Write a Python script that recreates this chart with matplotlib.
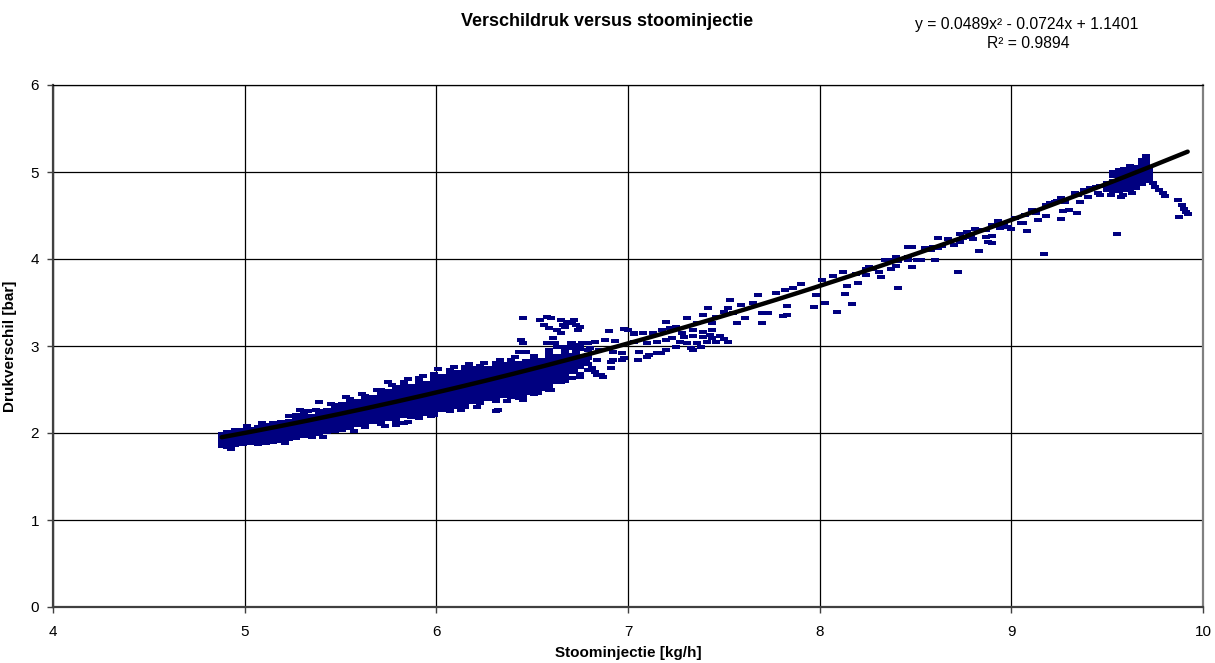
import numpy as np
import matplotlib
matplotlib.use("Agg")
import matplotlib.pyplot as plt

plt.rcParams['font.family'] = ['Liberation Sans', 'DejaVu Sans']

# Data
# dense band: column x positions and the y values per column
band_x = [4.88, 4.91, 4.95, 4.99, 5.03, 5.07, 5.11, 5.15, 5.19, 5.23,
          5.27, 5.31, 5.35, 5.39, 5.43, 5.47, 5.51, 5.55, 5.59, 5.63,
          5.67, 5.71, 5.75, 5.79, 5.83, 5.87, 5.91, 5.95, 5.99, 6.03,
          6.07, 6.11, 6.15, 6.19, 6.23, 6.27, 6.31, 6.35, 6.39, 6.43,
          6.47, 6.51, 6.55, 6.59, 6.63, 6.67, 6.71, 6.75, 6.79]
band_y = [
    [1.85, 1.89, 1.93, 1.96, 1.99],
    [1.84, 1.88, 1.91, 1.95, 1.98, 2.01],
    [1.86, 1.90, 1.93, 1.97, 2.00, 2.03],
    [1.87, 1.91, 1.94, 1.98, 2.01, 2.04],
    [1.88, 1.92, 1.95, 1.99, 2.02, 2.05],
    [1.87, 1.90, 1.93, 1.97, 2.00, 2.03, 2.07],
    [1.89, 1.92, 1.96, 1.99, 2.02, 2.05, 2.09],
    [1.90, 1.94, 1.97, 2.01, 2.04, 2.07, 2.11],
    [1.91, 1.95, 1.99, 2.02, 2.05, 2.09, 2.13],
    [1.93, 1.97, 2.00, 2.04, 2.07, 2.11, 2.14, 2.20],
    [1.94, 1.98, 2.02, 2.05, 2.09, 2.12, 2.16, 2.21],
    [1.96, 2.00, 2.03, 2.07, 2.10, 2.14, 2.18, 2.22],
    [1.95, 1.98, 2.02, 2.05, 2.09, 2.12, 2.16, 2.19],
    [1.99, 2.03, 2.07, 2.10, 2.14, 2.17, 2.21, 2.25, 2.36],
    [2.01, 2.05, 2.08, 2.12, 2.15, 2.19, 2.22, 2.26],
    [2.02, 2.06, 2.10, 2.13, 2.17, 2.20, 2.24, 2.28, 2.32],
    [2.04, 2.08, 2.11, 2.15, 2.19, 2.22, 2.26, 2.29, 2.33],
    [2.06, 2.10, 2.13, 2.17, 2.20, 2.24, 2.27, 2.31, 2.35, 2.39],
    [2.09, 2.12, 2.16, 2.19, 2.23, 2.26, 2.30, 2.33, 2.37],
    [2.07, 2.11, 2.14, 2.18, 2.21, 2.25, 2.28, 2.32, 2.35, 2.39, 2.43],
    [2.13, 2.16, 2.20, 2.23, 2.27, 2.30, 2.34, 2.37, 2.41],
    [2.10, 2.14, 2.18, 2.21, 2.25, 2.28, 2.32, 2.35, 2.39, 2.42, 2.46, 2.50],
    [2.16, 2.19, 2.23, 2.27, 2.30, 2.34, 2.37, 2.41, 2.44, 2.48, 2.59],
    [2.09, 2.13, 2.17, 2.21, 2.24, 2.28, 2.32, 2.35, 2.39, 2.42, 2.46, 2.49, 2.53],
    [2.12, 2.19, 2.23, 2.26, 2.30, 2.34, 2.37, 2.41, 2.44, 2.48, 2.51, 2.55, 2.59],
    [2.18, 2.22, 2.25, 2.29, 2.32, 2.36, 2.39, 2.43, 2.47, 2.50, 2.54],
    [2.17, 2.20, 2.24, 2.27, 2.31, 2.34, 2.38, 2.41, 2.45, 2.49, 2.52, 2.56, 2.60, 2.63],
    [2.22, 2.26, 2.29, 2.33, 2.36, 2.40, 2.44, 2.47, 2.51, 2.54, 2.58],
    [2.21, 2.24, 2.28, 2.31, 2.35, 2.38, 2.42, 2.46, 2.49, 2.53, 2.56, 2.60, 2.64, 2.68],
    [2.26, 2.30, 2.33, 2.37, 2.40, 2.44, 2.48, 2.51, 2.55, 2.58, 2.62, 2.66],
    [2.25, 2.28, 2.32, 2.35, 2.39, 2.43, 2.46, 2.50, 2.53, 2.57, 2.60, 2.64, 2.68, 2.72],
    [2.30, 2.34, 2.37, 2.41, 2.45, 2.48, 2.52, 2.55, 2.59, 2.62, 2.66, 2.70],
    [2.30, 2.34, 2.37, 2.41, 2.44, 2.48, 2.51, 2.55, 2.59, 2.62, 2.66, 2.69, 2.73, 2.76],
    [2.36, 2.39, 2.43, 2.46, 2.50, 2.53, 2.57, 2.61, 2.64, 2.68, 2.71, 2.75],
    [2.34, 2.37, 2.41, 2.44, 2.48, 2.52, 2.55, 2.59, 2.62, 2.66, 2.70, 2.73, 2.77],
    [2.39, 2.42, 2.46, 2.50, 2.53, 2.57, 2.60, 2.64, 2.68, 2.71, 2.75],
    [2.25, 2.37, 2.41, 2.44, 2.48, 2.52, 2.55, 2.59, 2.62, 2.66, 2.70, 2.73, 2.77, 2.80],
    [2.43, 2.46, 2.50, 2.54, 2.57, 2.61, 2.64, 2.68, 2.72, 2.75, 2.79],
    [2.41, 2.45, 2.48, 2.52, 2.56, 2.59, 2.63, 2.66, 2.70, 2.74, 2.77, 2.81, 2.84],
    [2.40, 2.44, 2.47, 2.51, 2.55, 2.58, 2.62, 2.66, 2.69, 2.73, 2.76, 2.80, 2.93],
    [2.46, 2.50, 2.53, 2.57, 2.61, 2.64, 2.68, 2.72, 2.75, 2.79, 2.83, 2.93],
    [2.45, 2.49, 2.53, 2.56, 2.60, 2.64, 2.67, 2.71, 2.75, 2.78, 2.82, 2.86, 2.89],
    [2.51, 2.55, 2.59, 2.62, 2.66, 2.70, 2.73, 2.77, 2.81, 2.84],
    [2.50, 2.54, 2.58, 2.61, 2.65, 2.69, 2.72, 2.76, 2.80, 2.84, 2.87, 2.91, 2.95],
    [2.59, 2.63, 2.66, 2.70, 2.74, 2.78, 2.81, 2.85, 2.89],
    [2.60, 2.64, 2.68, 2.72, 2.75, 2.79, 2.83, 2.87, 2.91, 2.95, 2.99],
    [2.63, 2.70, 2.74, 2.78, 2.82, 2.86, 2.90, 2.98, 3.02],
    [2.68, 2.76, 2.80, 2.84, 2.88, 2.97, 3.01],
    [2.72, 2.79, 2.86, 2.90, 2.95, 3.04],
]

# loose points sticking out of the band edges
edge_x = [5.01, 5.09, 5.29, 5.33, 5.37, 5.45, 5.53, 5.61, 5.69, 5.77, 5.85, 5.93,
          6.01, 6.09, 6.17, 6.25, 6.33, 6.41, 4.93, 5.21, 5.41, 5.57, 5.73, 5.81,
          5.85, 5.97, 6.13, 6.21, 6.37, 6.53]
edge_y = [2.08, 2.12, 2.26, 2.25, 2.27, 2.33, 2.41, 2.45, 2.49, 2.55, 2.62, 2.66,
          2.73, 2.76, 2.79, 2.81, 2.84, 2.87, 1.82, 1.89, 1.95, 2.02, 2.08, 2.12,
          2.13, 2.19, 2.27, 2.30, 2.37, 2.46]

# scattered points 6.4 - 9.3
spread_x = [6.45, 6.54, 6.58, 6.60, 6.65, 6.66, 6.56, 6.59, 6.63, 6.65, 6.67, 6.71, 6.70, 6.73,
            6.75, 6.74, 6.44, 6.45, 6.47, 6.58, 6.61, 6.62, 6.63, 6.71, 6.73, 6.68, 6.72,
            6.45, 6.45, 6.32, 6.59, 6.60, 6.65, 6.75, 6.83, 6.84, 6.87, 6.72, 6.92, 6.97,
            6.70, 6.76, 6.83, 6.88, 6.93, 6.73, 6.80, 6.85, 6.92, 6.97, 6.78, 6.84, 6.91,
            6.98, 6.81, 6.86, 6.91, 6.87, 6.90, 6.98, 7.00, 7.03,
            7.03, 7.08, 7.13, 7.18, 7.22, 7.03, 7.10, 7.15, 7.20, 7.06, 7.11, 7.17, 7.05,
            7.10, 7.15, 7.20,
            7.29, 7.34, 7.39, 7.44, 7.50, 7.52, 7.31, 7.36, 7.41, 7.46, 7.33, 7.34, 7.38,
            7.23, 7.25, 7.28, 7.34, 7.39, 7.44, 7.27, 7.43, 7.48,
            7.20, 7.25, 7.31, 7.36, 7.39, 7.42, 7.44, 7.46, 7.50, 7.52, 7.53, 7.55, 7.57,
            7.59, 7.61, 7.65, 7.68, 7.70, 7.70, 7.77,
            7.70, 7.73, 7.77, 7.82, 7.86, 7.90, 7.81, 7.83, 7.83, 7.97, 7.98, 8.03, 8.09,
            8.13, 8.14, 8.17, 8.20, 8.01, 8.07, 8.12, 8.19, 8.24, 8.26, 8.28, 8.24, 8.31,
            8.32, 8.34, 8.37, 8.40, 8.41, 8.37, 8.40, 8.41, 8.46, 8.48, 8.46, 8.46, 8.48,
            8.51, 8.53, 8.55, 8.58, 8.59, 8.60, 8.62, 8.62, 8.64, 8.67, 8.70, 8.72, 8.73,
            8.77, 8.81, 8.73, 8.75, 8.79, 8.80, 8.83, 8.85, 8.87, 8.87, 8.88, 8.90, 8.90,
            8.90, 8.93, 8.94, 8.98, 9.00, 9.05, 8.96, 9.02,
            9.06, 9.08, 9.07, 9.11, 9.13, 9.14, 9.17, 9.18, 9.18, 9.20, 9.23, 9.24, 9.26,
            9.28, 9.26, 9.27, 9.30, 9.34, 9.33, 9.35, 9.36]
spread_y = [3.32, 3.30, 3.33, 3.32, 3.30, 3.24, 3.24, 3.21, 3.18, 3.15, 3.22, 3.26, 3.26, 3.24,
            3.22, 3.18, 3.07, 3.03, 2.93, 3.03, 3.09, 3.03, 2.99, 3.03, 2.99, 3.28, 3.30,
            2.41, 2.38, 2.26, 2.55, 2.49, 2.59, 2.64, 2.70, 2.67, 2.64, 2.72, 2.84, 2.84,
            3.03, 3.03, 3.05, 3.07, 3.06, 2.93, 2.98, 2.95, 2.93, 2.92, 2.82, 2.84, 2.82,
            2.86, 2.75, 2.67, 2.75, 2.64, 3.17, 3.20, 3.18, 3.14,
            3.15, 3.15, 3.15, 3.18, 3.21, 3.05, 3.03, 3.05, 3.07, 2.93, 2.90, 2.92, 2.84,
            2.87, 2.92, 2.95,
            3.10, 3.11, 3.10, 3.09, 3.08, 3.05, 3.03, 3.03, 3.05, 3.05, 2.98, 2.95, 2.99,
            3.09, 2.99, 3.15, 3.18, 3.16, 3.18, 3.05, 3.13, 3.12,
            3.28, 3.22, 3.32, 3.26, 3.36, 3.44, 3.26, 3.33, 3.39, 3.44, 3.53, 3.38, 3.26,
            3.47, 3.32, 3.49, 3.59, 3.38, 3.26, 3.61,
            3.26, 3.38, 3.61, 3.64, 3.67, 3.71, 3.34, 3.36, 3.46, 3.45, 3.59, 3.49, 3.39,
            3.60, 3.69, 3.48, 3.72, 3.76, 3.80, 3.85, 3.83, 3.89, 3.91, 3.89, 3.82, 3.85,
            3.79, 3.99, 3.99, 4.02, 3.98, 3.89, 3.92, 3.67, 4.14, 4.14, 3.99, 4.02, 3.91,
            3.99, 3.99, 4.13, 4.10, 4.14, 3.99, 4.13, 4.24, 4.15, 4.23, 4.16, 3.85, 4.29,
            4.31, 4.34, 4.20, 4.24, 4.25, 4.23, 4.09, 4.33, 4.33, 4.25, 4.20, 4.18, 4.27,
            4.39, 4.44, 4.36, 4.37, 4.34, 4.41, 4.40, 4.47,
            4.41, 4.32, 4.51, 4.56, 4.53, 4.45, 4.06, 4.49, 4.62, 4.64, 4.66, 4.67, 4.70,
            4.66, 4.46, 4.55, 4.56, 4.53, 4.76, 4.74, 4.66]

# cluster near 9.6 and the tail to the right
top_x = [9.38, 9.41, 9.44, 9.46, 9.40, 9.45, 9.46, 9.50, 9.50, 9.50, 9.55, 9.58, 9.52, 9.57,
         9.63,
         9.53, 9.53, 9.53, 9.53, 9.53, 9.53,
         9.56, 9.56, 9.56, 9.56, 9.56, 9.56, 9.56,
         9.59, 9.59, 9.59, 9.59, 9.59, 9.59, 9.59,
         9.62, 9.62, 9.62, 9.62, 9.62, 9.62, 9.62, 9.62,
         9.65, 9.65, 9.65, 9.65, 9.65, 9.65, 9.65,
         9.68, 9.68, 9.68, 9.68, 9.68, 9.68, 9.68, 9.68,
         9.70, 9.70, 9.70, 9.70, 9.70, 9.70, 9.70, 9.70,
         9.72, 9.72, 9.72, 9.72,
         9.74, 9.75, 9.77, 9.79, 9.80, 9.87, 9.89, 9.90, 9.91, 9.92, 9.875]
top_y = [4.79, 4.82, 4.83, 4.84, 4.71, 4.76, 4.74, 4.87, 4.79, 4.83, 4.29, 4.74, 4.74, 4.71,
         4.76,
         4.78, 4.82, 4.86, 4.90, 4.95, 5.00,
         4.78, 4.82, 4.86, 4.90, 4.94, 4.98, 5.02,
         4.79, 4.83, 4.87, 4.91, 4.95, 4.99, 5.03,
         4.80, 4.84, 4.88, 4.92, 4.96, 5.00, 5.04, 5.07,
         4.82, 4.86, 4.90, 4.94, 4.98, 5.02, 5.06,
         4.86, 4.90, 4.94, 4.98, 5.02, 5.06, 5.10, 5.14,
         4.90, 4.94, 4.98, 5.02, 5.06, 5.10, 5.14, 5.18,
         4.91, 4.95, 5.00, 5.04,
         4.87, 4.83, 4.79, 4.76, 4.72, 4.68, 4.62, 4.58, 4.54, 4.52, 4.48]

# polynomial trendline as printed on the chart (a, b, c)
trend_coef = [0.0489, -0.0724, 1.1401]
r_squared = 0.9894

x_ticks = [4, 5, 6, 7, 8, 9, 10]
y_ticks = [0, 1, 2, 3, 4, 5, 6]

# flatten the band columns
xs = []
ys = []
for bx, col in zip(band_x, band_y):
    xs += [bx] * len(col)
    ys += col
xs += edge_x + spread_x + top_x
ys += edge_y + spread_y + top_y
xs = np.array(xs)
ys = np.array(ys)

fig = plt.figure(figsize=(12.15, 6.63), dpi=100)
ax = fig.add_axes([53 / 1215, 56 / 663, 1150 / 1215, 522 / 663])

# dash shaped marker like the excel one
dash = [(-1, -0.4), (1, -0.4), (1, 0.4), (-1, 0.4), (-1, -0.4)]
ax.plot(xs, ys, linestyle='none', marker=dash, markersize=5.8,
        color='#000080', markeredgewidth=0, zorder=3)

xx = np.linspace(xs.min(), xs.max(), 200)
ax.plot(xx, np.polyval(trend_coef, xx), color='black', lw=3.2,
        solid_capstyle='round', zorder=4)

ax.set_xlim(4, 10)
ax.set_ylim(0, 6)
ax.set_xticks(x_ticks)
ax.set_yticks(y_ticks)
ax.grid(True, color='black', lw=0.9, zorder=1)
ax.set_axisbelow(True)
ax.tick_params(direction='out', length=4, width=1, labelsize=11, color='#404040')
ax.tick_params(axis='x', pad=9)
ax.tick_params(axis='y', pad=6)

ax.spines['left'].set_color('#404040')
ax.spines['bottom'].set_color('#404040')
ax.spines['left'].set_linewidth(1.6)
ax.spines['bottom'].set_linewidth(1.6)
ax.spines['top'].set_color('black')
ax.spines['top'].set_linewidth(0.9)
ax.spines['right'].set_color('#808080')
ax.spines['right'].set_linewidth(1.6)

ax.set_xlabel('Stoominjectie [kg/h]', fontsize=11, fontweight='bold', labelpad=5)
ax.set_ylabel('Drukverschil [bar]', fontsize=11, fontweight='bold', labelpad=10)

fig.text(607 / 1215, 1 - 22 / 663, 'Verschildruk versus stoominjectie',
         ha='center', va='center', fontsize=13, fontweight='bold')

eq = 'y = {:.4f}x² - {:.4f}x + {:.4f}'.format(trend_coef[0], -trend_coef[1], trend_coef[2])
fig.text(1027 / 1215, 1 - 24 / 663, eq, ha='center', va='center', fontsize=11.3)
fig.text(1028 / 1215, 1 - 43 / 663, 'R² = {:.4f}'.format(r_squared),
         ha='center', va='center', fontsize=11.3)

fig.savefig('out.png', dpi=100)
